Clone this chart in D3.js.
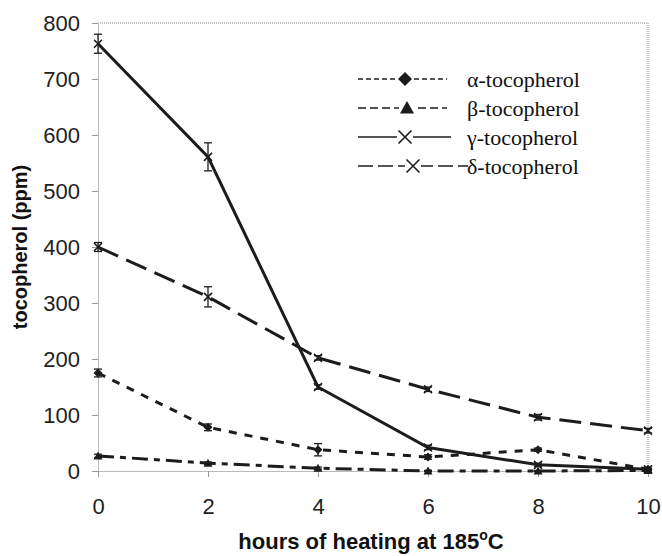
<!DOCTYPE html>
<html>
<head>
<meta charset="utf-8">
<script src="https://cdn.jsdelivr.net/npm/d3@7"></script>
<style>
  body { margin: 0; background: #fff; }
  svg { display: block; }
</style>
</head>
<body>
<div id="chart"></div>
<script>
// values (ppm)
const hours = [0, 2, 4, 6, 8, 10];
const alphaVals = [175, 78, 38, 25, 38, 3];
const alphaErr = [7, 6, 11, 4, 3, 2];
const betaVals = [27, 14, 5, 0, 0, 1];
const betaErr = [3, 2, 2, 1, 1, 1];
const gammaVals = [763, 561, 150, 42, 11, 3];
const gammaErr = [17, 25, 4, 4, 3, 2];
const deltaVals = [400, 311, 202, 146, 96, 72];
const deltaErr = [8, 18, 4, 4, 5, 4];
const seriesNames = ["α-tocopherol", "β-tocopherol", "γ-tocopherol", "δ-tocopherol"];
const xTicks = [0, 2, 4, 6, 8, 10];
const yTicks = [0, 100, 200, 300, 400, 500, 600, 700, 800];

const width = 662, height = 556;
const ink = "#1c1c1c";

const series = [
  { name: seriesNames[0], vals: alphaVals, err: alphaErr, marker: "diamond", dash: "8,8", ldash: "5,3" },
  { name: seriesNames[1], vals: betaVals, err: betaErr, marker: "triangle", dash: "16,6,6,6", ldash: "8,4" },
  { name: seriesNames[2], vals: gammaVals, err: gammaErr, marker: "cross", dash: null, ldash: null },
  { name: seriesNames[3], vals: deltaVals, err: deltaErr, marker: "cross", dash: "22,9", ldash: "15,5" },
];

const svg = d3.select("#chart").append("svg").attr("width", width).attr("height", height);

const x = d3.scaleLinear().domain([0, 10]).range([98, 648]);
const y = d3.scaleLinear().domain([0, 800]).range([471, 23]);

// frame (top / right dotted)
svg.append("line").attr("x1", x(0)).attr("x2", x(10)).attr("y1", y(800)).attr("y2", y(800))
  .attr("stroke", "#888").attr("stroke-dasharray", "1,1");
svg.append("line").attr("x1", x(10)).attr("x2", x(10)).attr("y1", y(800)).attr("y2", y(0))
  .attr("stroke", "#888").attr("stroke-dasharray", "1,1");

const yAxis = svg.append("g").attr("transform", `translate(${x(0)},0)`)
  .call(d3.axisLeft(y).tickValues(yTicks).tickSize(6).tickSizeOuter(0).tickPadding(12));
const xAxis = svg.append("g").attr("transform", `translate(0,${y(0)})`)
  .call(d3.axisBottom(x).tickValues(xTicks).tickSize(6).tickSizeOuter(0).tickPadding(21));
[xAxis, yAxis].forEach((g) => {
  g.select(".domain").attr("stroke", "#777").attr("stroke-dasharray", "1,1");
  g.selectAll(".tick line").attr("stroke", "#999");
  g.selectAll("text").attr("font-family", "Liberation Sans, Arial, sans-serif")
    .attr("font-size", 22).attr("fill", "#222");
});

// axis titles
svg.append("text")
  .attr("x", 371).attr("y", 549)
  .attr("text-anchor", "middle")
  .attr("font-family", "Liberation Sans, Arial, sans-serif")
  .attr("font-weight", "bold").attr("font-size", 22).attr("fill", "#111")
  .call((t) => {
    t.append("tspan").text("hours of heating at 185");
    t.append("tspan").attr("dy", -9).attr("font-size", 14).text("o");
    t.append("tspan").attr("dy", 9).text("C");
  });
svg.append("text")
  .attr("transform", "translate(27,247) rotate(-90)")
  .attr("text-anchor", "middle")
  .attr("font-family", "Liberation Sans, Arial, sans-serif")
  .attr("font-weight", "bold").attr("font-size", 20).attr("fill", "#111")
  .text("tocopherol (ppm)");

function drawMarker(g, type, s) {
  if (type === "diamond") {
    g.append("path").attr("d", `M0,${-s}L${s},0L0,${s}L${-s},0Z`).attr("fill", ink);
  } else if (type === "triangle") {
    g.append("path").attr("d", `M0,${-s}L${s},${s * 0.8}L${-s},${s * 0.8}Z`).attr("fill", ink);
  } else {
    g.append("path").attr("d", `M${-s},${-s}L${s},${s}M${-s},${s}L${s},${-s}`)
      .attr("stroke", ink).attr("stroke-width", 1.6).attr("fill", "none");
  }
}

const line = d3.line().x((d) => x(d[0])).y((d) => y(d[1]));

series.forEach((s) => {
  const pts = hours.map((h, i) => [h, s.vals[i], s.err[i]]);
  const g = svg.append("g");
  g.append("path").datum(pts).attr("d", line)
    .attr("fill", "none").attr("stroke", ink).attr("stroke-width", 3)
    .attr("stroke-dasharray", s.dash);
  // error bars
  const eb = g.selectAll(".eb").data(pts).enter().append("g")
    .attr("transform", (d) => `translate(${x(d[0])},0)`);
  eb.append("line").attr("y1", (d) => y(d[1] - d[2])).attr("y2", (d) => y(d[1] + d[2]))
    .attr("stroke", ink).attr("stroke-width", 1.3);
  [1, -1].forEach((k) => {
    eb.append("line").attr("x1", -4).attr("x2", 4)
      .attr("y1", (d) => y(d[1] + k * d[2])).attr("y2", (d) => y(d[1] + k * d[2]))
      .attr("stroke", ink).attr("stroke-width", 1.3);
  });
  g.selectAll(".mk").data(pts).enter().append("g")
    .attr("transform", (d) => `translate(${x(d[0])},${y(d[1])})`)
    .each(function () { drawMarker(d3.select(this), s.marker, s.marker === "cross" ? 4 : 4.5); });
});

// legend
const legend = svg.append("g").attr("transform", "translate(358,79)");
const rows = legend.selectAll(".row").data(series).enter().append("g")
  .attr("transform", (d, i) => `translate(0,${i * 29})`);
rows.append("line").attr("x1", 0).attr("x2", (d, i) => (i === 3 ? 110 : i === 2 ? 93 : 89))
  .attr("stroke", ink).attr("stroke-width", 1.3)
  .attr("stroke-dasharray", (d) => d.ldash);
rows.each(function (d, i) {
  const m = d3.select(this).append("g").attr("transform", `translate(${i === 3 ? 55 : i === 1 ? 49 : 47},0)`);
  m.append("rect").attr("x", -8).attr("y", -8).attr("width", 16).attr("height", 16).attr("fill", "#fff");
  drawMarker(m, d.marker, d.marker === "cross" ? 6.5 : 7);
});
rows.append("text").attr("x", 109).attr("dy", "0.35em")
  .attr("font-family", "Liberation Serif, Times New Roman, serif")
  .attr("font-size", 22).attr("fill", "#111")
  .text((d) => d.name);
</script>
</body>
</html>
